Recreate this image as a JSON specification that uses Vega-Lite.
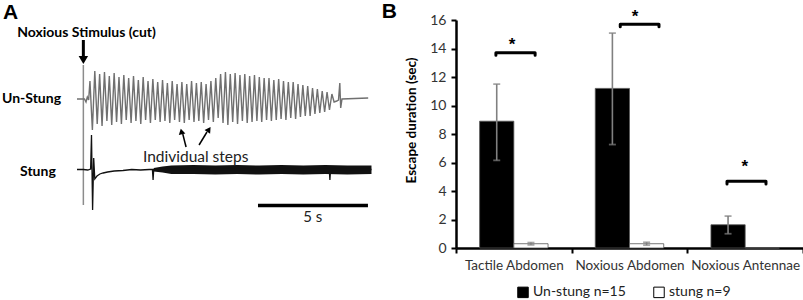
{
  "$schema": "https://vega.github.io/schema/vega-lite/v6.json",
  "padding": 0,
  "background": "white",
  "config": {
    "view": {"stroke": null},
    "font": "Lato",
    "concat": {"spacing": 6}
  },
  "datasets": {
    "unstung_trace": [
      {"t": -0.29, "v": 5.1}, {"t": 0.05, "v": 5.1}, {"t": 0.12, "v": 4.8}, {"t": 0.18, "v": 5.3}, {"t": 0.24, "v": 5.0},
      {"t": 0.30, "v": 6.9}, {"t": 0.41, "v": 2.0}, {"t": 0.52, "v": 7.9}, {"t": 0.63, "v": 2.6}, {"t": 0.74, "v": 7.6},
      {"t": 0.85, "v": 2.4}, {"t": 0.96, "v": 7.8}, {"t": 1.07, "v": 2.9}, {"t": 1.18, "v": 7.4}, {"t": 1.29, "v": 2.5},
      {"t": 1.40, "v": 7.7}, {"t": 1.51, "v": 2.8}, {"t": 1.62, "v": 7.3}, {"t": 1.73, "v": 2.6}, {"t": 1.84, "v": 7.5},
      {"t": 1.95, "v": 3.0}, {"t": 2.06, "v": 7.2}, {"t": 2.17, "v": 2.7}, {"t": 2.28, "v": 7.4}, {"t": 2.39, "v": 2.9},
      {"t": 2.50, "v": 7.0}, {"t": 2.61, "v": 2.6}, {"t": 2.72, "v": 7.3}, {"t": 2.83, "v": 3.0}, {"t": 2.94, "v": 6.9},
      {"t": 3.05, "v": 2.7}, {"t": 3.16, "v": 7.1}, {"t": 3.27, "v": 3.0}, {"t": 3.38, "v": 6.8}, {"t": 3.49, "v": 2.8},
      {"t": 3.60, "v": 7.0}, {"t": 3.71, "v": 2.9}, {"t": 3.82, "v": 6.7}, {"t": 3.93, "v": 2.7}, {"t": 4.04, "v": 6.9},
      {"t": 4.15, "v": 3.0}, {"t": 4.26, "v": 6.6}, {"t": 4.37, "v": 2.8}, {"t": 4.48, "v": 6.8}, {"t": 4.59, "v": 2.7},
      {"t": 4.70, "v": 6.6}, {"t": 4.81, "v": 3.0}, {"t": 4.92, "v": 6.9}, {"t": 5.03, "v": 2.8}, {"t": 5.14, "v": 6.7},
      {"t": 5.25, "v": 2.9}, {"t": 5.36, "v": 6.8}, {"t": 5.47, "v": 2.7}, {"t": 5.58, "v": 6.6}, {"t": 5.69, "v": 3.0},
      {"t": 5.80, "v": 6.9}, {"t": 5.91, "v": 2.8}, {"t": 6.02, "v": 7.2}, {"t": 6.13, "v": 3.2}, {"t": 6.24, "v": 7.6},
      {"t": 6.35, "v": 2.7}, {"t": 6.46, "v": 7.8}, {"t": 6.57, "v": 2.5}, {"t": 6.68, "v": 7.6}, {"t": 6.79, "v": 2.8},
      {"t": 6.90, "v": 7.7}, {"t": 7.01, "v": 2.6}, {"t": 7.12, "v": 7.5}, {"t": 7.23, "v": 2.9}, {"t": 7.34, "v": 7.6},
      {"t": 7.45, "v": 2.7}, {"t": 7.56, "v": 7.4}, {"t": 7.67, "v": 2.8}, {"t": 7.78, "v": 7.5}, {"t": 7.89, "v": 2.9},
      {"t": 8.00, "v": 7.3}, {"t": 8.11, "v": 2.8}, {"t": 8.22, "v": 7.2}, {"t": 8.33, "v": 3.0}, {"t": 8.44, "v": 7.2},
      {"t": 8.55, "v": 2.9}, {"t": 8.66, "v": 7.0}, {"t": 8.77, "v": 3.0}, {"t": 8.88, "v": 7.1}, {"t": 8.99, "v": 3.1},
      {"t": 9.10, "v": 6.9}, {"t": 9.21, "v": 3.0}, {"t": 9.32, "v": 6.8}, {"t": 9.43, "v": 3.2}, {"t": 9.54, "v": 6.8},
      {"t": 9.65, "v": 3.1}, {"t": 9.76, "v": 6.6}, {"t": 9.87, "v": 3.3}, {"t": 9.98, "v": 6.5}, {"t": 10.09, "v": 3.4},
      {"t": 10.20, "v": 6.4}, {"t": 10.31, "v": 3.4}, {"t": 10.42, "v": 6.2}, {"t": 10.53, "v": 3.6}, {"t": 10.64, "v": 6.1},
      {"t": 10.75, "v": 3.7}, {"t": 10.86, "v": 5.9}, {"t": 10.97, "v": 3.8}, {"t": 11.08, "v": 5.8}, {"t": 11.19, "v": 4.0},
      {"t": 11.30, "v": 5.6}, {"t": 11.40, "v": 4.8}, {"t": 11.52, "v": 4.9}, {"t": 11.60, "v": 5.0}, {"t": 11.66, "v": 6.7},
      {"t": 11.70, "v": 4.2}, {"t": 11.76, "v": 5.1}, {"t": 12.95, "v": 5.2}
    ],
    "stung_trace": [
      {"t": -0.29, "v": -1.95}, {"t": 0.00, "v": -1.95}, {"t": 0.20, "v": -2.0}, {"t": 0.33, "v": -1.9},
      {"t": 0.37, "v": 1.5}, {"t": 0.42, "v": -6.0}, {"t": 0.47, "v": -0.8}, {"t": 0.52, "v": -2.9},
      {"t": 0.62, "v": -2.6}, {"t": 0.75, "v": -2.4}, {"t": 0.90, "v": -2.3}, {"t": 1.10, "v": -2.2},
      {"t": 1.40, "v": -2.1}, {"t": 1.80, "v": -2.05}, {"t": 2.20, "v": -1.95}, {"t": 2.60, "v": -2.0},
      {"t": 3.00, "v": -1.95}, {"t": 3.14, "v": -1.95}, {"t": 3.17, "v": -3.0}, {"t": 3.20, "v": -1.95},
      {"t": 11.18, "v": -1.95}, {"t": 11.21, "v": -3.0}, {"t": 11.24, "v": -1.95}, {"t": 13.10, "v": -1.95}
    ],
    "stung_noise": [
      {"t": 3.20, "lo": -2.15, "hi": -1.80}, {"t": 3.60, "lo": -2.25, "hi": -1.65}, {"t": 4.00, "lo": -2.40, "hi": -1.55},
      {"t": 5.00, "lo": -2.40, "hi": -1.50}, {"t": 6.00, "lo": -2.45, "hi": -1.55}, {"t": 7.00, "lo": -2.40, "hi": -1.50},
      {"t": 8.00, "lo": -2.45, "hi": -1.55}, {"t": 9.00, "lo": -2.40, "hi": -1.50}, {"t": 10.00, "lo": -2.45, "hi": -1.55},
      {"t": 11.00, "lo": -2.40, "hi": -1.50}, {"t": 12.00, "lo": -2.45, "hi": -1.55}, {"t": 13.10, "lo": -2.40, "hi": -1.55}
    ],
    "a_segments": [
      {"role": "stimulus line", "t": 0, "v": 8.5, "t2": 0, "v2": -5.5},
      {"role": "stimulus arrow", "t": 0, "v": 11.0, "t2": 0, "v2": 9.3},
      {"role": "step arrow", "t": 4.67, "v": 0.3, "t2": 4.52, "v2": 1.6},
      {"role": "step arrow", "t": 5.26, "v": 0.5, "t2": 5.62, "v2": 1.8},
      {"role": "scale bar", "t": 7.94, "v": -5.55, "t2": 12.94, "v2": -5.55}
    ],
    "a_heads": [
      {"role": "stimulus arrow", "t": 0, "v": 9.0},
      {"role": "step arrow 1", "t": 4.46, "v": 1.85},
      {"role": "step arrow 2", "t": 5.71, "v": 2.05}
    ],
    "a_labels": [
      {"role": "panel", "t": -3.65, "v": 13.75, "label": "A"},
      {"role": "bold", "t": -3.01, "v": 11.7, "label": "Noxious Stimulus (cut)"},
      {"role": "bold", "t": -3.70, "v": 5.1, "label": "Un-Stung"},
      {"role": "bold", "t": -2.88, "v": -2.2, "label": "Stung"},
      {"role": "plain", "t": 2.71, "v": -0.7, "label": "Individual steps"},
      {"role": "scale", "t": 10.43, "v": -6.7, "label": "5 s"}
    ],
    "bars": [
      {"stimulus": "Tactile Abdomen", "group": "Un-stung n=15", "value": 8.9, "lo": 6.15, "hi": 11.5},
      {"stimulus": "Tactile Abdomen", "group": "stung n=9", "value": 0.3, "lo": 0.22, "hi": 0.38},
      {"stimulus": "Noxious Abdomen", "group": "Un-stung n=15", "value": 11.2, "lo": 7.26, "hi": 15.08},
      {"stimulus": "Noxious Abdomen", "group": "stung n=9", "value": 0.3, "lo": 0.2, "hi": 0.4},
      {"stimulus": "Noxious Antennae", "group": "Un-stung n=15", "value": 1.63, "lo": 1.0, "hi": 2.24},
      {"stimulus": "Noxious Antennae", "group": "stung n=9", "value": 0.0, "lo": null, "hi": null}
    ],
    "brackets": [
      {"id": 1, "k": 1, "pos": 0.345, "y": 13.52}, {"id": 1, "k": 2, "pos": 0.345, "y": 13.70},
      {"id": 1, "k": 3, "pos": 0.684, "y": 13.70}, {"id": 1, "k": 4, "pos": 0.684, "y": 13.52},
      {"id": 2, "k": 1, "pos": 1.420, "y": 15.52}, {"id": 2, "k": 2, "pos": 1.420, "y": 15.70},
      {"id": 2, "k": 3, "pos": 1.755, "y": 15.70}, {"id": 2, "k": 4, "pos": 1.755, "y": 15.52},
      {"id": 3, "k": 1, "pos": 2.343, "y": 4.50}, {"id": 3, "k": 2, "pos": 2.343, "y": 4.68},
      {"id": 3, "k": 3, "pos": 2.680, "y": 4.68}, {"id": 3, "k": 4, "pos": 2.680, "y": 4.50}
    ],
    "stars": [
      {"pos": 0.484, "y": 14.54, "label": "*"},
      {"pos": 1.548, "y": 16.5, "label": "*"},
      {"pos": 2.496, "y": 5.94, "label": "*"}
    ]
  },
  "hconcat": [
    {
      "width": 375,
      "height": 230,
      "layer": [
        {
          "data": {"name": "a_segments"},
          "transform": [{"filter": "datum.role == 'stimulus line'"}],
          "mark": {"type": "rule", "color": "#8c8c8c", "strokeWidth": 1.5},
          "encoding": {
            "x": {"field": "t", "type": "quantitative", "scale": {"domain": [-3.79, 13.26], "nice": false, "zero": false}, "axis": null},
            "y": {"field": "v", "type": "quantitative", "scale": {"domain": [-10, 13], "nice": false, "zero": false}, "axis": null},
            "x2": {"field": "t2"},
            "y2": {"field": "v2"}
          }
        },
        {
          "data": {"name": "unstung_trace"},
          "mark": {"type": "line", "color": "#707070", "strokeWidth": 1.4},
          "encoding": {
            "x": {"field": "t", "type": "quantitative"},
            "y": {"field": "v", "type": "quantitative"}
          }
        },
        {
          "data": {"name": "stung_noise"},
          "mark": {"type": "area", "color": "#111111"},
          "encoding": {
            "x": {"field": "t", "type": "quantitative"},
            "y": {"field": "lo", "type": "quantitative"},
            "y2": {"field": "hi"}
          }
        },
        {
          "data": {"name": "stung_trace"},
          "mark": {"type": "line", "color": "#111111", "strokeWidth": 1.3},
          "encoding": {
            "x": {"field": "t", "type": "quantitative"},
            "y": {"field": "v", "type": "quantitative"}
          }
        },
        {
          "data": {"name": "a_segments"},
          "transform": [{"filter": "datum.role == 'stimulus arrow'"}],
          "mark": {"type": "rule", "color": "black", "strokeWidth": 3},
          "encoding": {
            "x": {"field": "t", "type": "quantitative"},
            "y": {"field": "v", "type": "quantitative"},
            "x2": {"field": "t2"},
            "y2": {"field": "v2"}
          }
        },
        {
          "data": {"name": "a_segments"},
          "transform": [{"filter": "datum.role == 'step arrow'"}],
          "mark": {"type": "rule", "color": "black", "strokeWidth": 1.5},
          "encoding": {
            "x": {"field": "t", "type": "quantitative"},
            "y": {"field": "v", "type": "quantitative"},
            "x2": {"field": "t2"},
            "y2": {"field": "v2"}
          }
        },
        {
          "data": {"name": "a_segments"},
          "transform": [{"filter": "datum.role == 'scale bar'"}],
          "mark": {"type": "rule", "color": "black", "strokeWidth": 3.5},
          "encoding": {
            "x": {"field": "t", "type": "quantitative"},
            "y": {"field": "v", "type": "quantitative"},
            "x2": {"field": "t2"},
            "y2": {"field": "v2"}
          }
        },
        {
          "data": {"name": "a_heads"},
          "transform": [{"filter": "datum.role == 'stimulus arrow'"}],
          "mark": {"type": "point", "shape": "triangle-down", "filled": true, "color": "black", "size": 90, "opacity": 1},
          "encoding": {
            "x": {"field": "t", "type": "quantitative"},
            "y": {"field": "v", "type": "quantitative"}
          }
        },
        {
          "data": {"name": "a_heads"},
          "transform": [{"filter": "datum.role == 'step arrow 1'"}],
          "mark": {"type": "point", "shape": "triangle-up", "filled": true, "color": "black", "size": 45, "angle": -13, "opacity": 1},
          "encoding": {
            "x": {"field": "t", "type": "quantitative"},
            "y": {"field": "v", "type": "quantitative"}
          }
        },
        {
          "data": {"name": "a_heads"},
          "transform": [{"filter": "datum.role == 'step arrow 2'"}],
          "mark": {"type": "point", "shape": "triangle-up", "filled": true, "color": "black", "size": 45, "angle": 34, "opacity": 1},
          "encoding": {
            "x": {"field": "t", "type": "quantitative"},
            "y": {"field": "v", "type": "quantitative"}
          }
        },
        {
          "data": {"name": "a_labels"},
          "transform": [{"filter": "datum.role == 'panel'"}],
          "mark": {"type": "text", "align": "left", "baseline": "middle", "font": "Liberation Sans", "fontSize": 21, "fontWeight": "bold", "color": "black"},
          "encoding": {
            "x": {"field": "t", "type": "quantitative"},
            "y": {"field": "v", "type": "quantitative"},
            "text": {"field": "label"}
          }
        },
        {
          "data": {"name": "a_labels"},
          "transform": [{"filter": "datum.role == 'bold'"}],
          "mark": {"type": "text", "align": "left", "baseline": "middle", "font": "Lato", "fontSize": 14, "fontWeight": "bold", "color": "black"},
          "encoding": {
            "x": {"field": "t", "type": "quantitative"},
            "y": {"field": "v", "type": "quantitative"},
            "text": {"field": "label"}
          }
        },
        {
          "data": {"name": "a_labels"},
          "transform": [{"filter": "datum.role == 'plain'"}],
          "mark": {"type": "text", "align": "left", "baseline": "middle", "font": "Lato", "fontSize": 15.5, "color": "#222222"},
          "encoding": {
            "x": {"field": "t", "type": "quantitative"},
            "y": {"field": "v", "type": "quantitative"},
            "text": {"field": "label"}
          }
        },
        {
          "data": {"name": "a_labels"},
          "transform": [{"filter": "datum.role == 'scale'"}],
          "mark": {"type": "text", "align": "center", "baseline": "middle", "font": "Lato", "fontSize": 15, "color": "#222222"},
          "encoding": {
            "x": {"field": "t", "type": "quantitative"},
            "y": {"field": "v", "type": "quantitative"},
            "text": {"field": "label"}
          }
        }
      ]
    },
    {
      "width": 347,
      "height": 228,
      "title": {"text": "B", "anchor": "start", "font": "Liberation Sans", "fontSize": 21, "fontWeight": "bold", "color": "black", "dx": -23, "offset": -14},
      "layer": [
        {
          "layer": [
            {
              "data": {"name": "bars"},
              "mark": {"type": "bar", "stroke": "#555555", "strokeWidth": 0.8},
              "encoding": {
                "x": {
                  "field": "stimulus", "type": "nominal",
                  "sort": ["Tactile Abdomen", "Noxious Abdomen", "Noxious Antennae"],
                  "scale": {"paddingInner": 0, "paddingOuter": 0},
                  "axis": {
                    "title": null, "labelAngle": 0, "tickBand": "extent", "orient": "bottom",
                    "domainColor": "black", "domainWidth": 2.5, "tickColor": "black", "tickWidth": 2, "tickSize": 5,
                    "labelFont": "Lato", "labelFontSize": 13.5, "labelColor": "#333333", "labelPadding": 5
                  }
                },
                "xOffset": {"field": "group", "type": "nominal", "sort": ["Un-stung n=15", "stung n=9"], "scale": {"paddingInner": 0, "paddingOuter": 0.69}},
                "y": {
                  "field": "value", "type": "quantitative",
                  "scale": {"domain": [0, 16], "nice": false},
                  "axis": {
                    "values": [0, 2, 4, 6, 8, 10, 12, 14, 16], "tickCount": 12, "grid": false, "labelOverlap": false,
                    "title": "Escape duration (sec)", "titleFont": "Lato", "titleFontSize": 13.5, "titleFontWeight": "bold", "titleColor": "black", "titlePadding": 11, "titleY": 100,
                    "domainColor": "black", "domainWidth": 2.5, "tickColor": "black", "tickWidth": 2, "tickSize": 5,
                    "labelFont": "Lato", "labelFontSize": 14, "labelColor": "#333333", "labelPadding": 5
                  }
                },
                "fill": {
                  "field": "group", "type": "nominal",
                  "sort": ["Un-stung n=15", "stung n=9"],
                  "scale": {"domain": ["Un-stung n=15", "stung n=9"], "range": ["#000000", "#ffffff"]},
                  "legend": {
                    "title": null, "orient": "none", "legendX": 516, "legendY": 265, "direction": "horizontal",
                    "symbolType": "square", "symbolSize": 110, "symbolStrokeColor": "black", "symbolStrokeWidth": 1,
                    "labelFont": "Lato", "labelFontSize": 14, "labelColor": "#222222", "columnPadding": 25, "labelOffset": 3, "padding": 0
                  }
                }
              }
            },
            {
              "data": {"name": "bars"},
              "transform": [{"filter": "datum.lo != null"}],
              "mark": {"type": "rule", "color": "#808080", "strokeWidth": 1.6},
              "encoding": {
                "x": {"field": "stimulus", "type": "nominal", "sort": ["Tactile Abdomen", "Noxious Abdomen", "Noxious Antennae"]},
                "xOffset": {"field": "group", "type": "nominal", "sort": ["Un-stung n=15", "stung n=9"]},
                "y": {"field": "lo", "type": "quantitative"},
                "y2": {"field": "hi"}
              }
            },
            {
              "data": {"name": "bars"},
              "transform": [{"filter": "datum.lo != null"}],
              "mark": {"type": "tick", "color": "#808080", "size": 7, "thickness": 1.8, "orient": "horizontal"},
              "encoding": {
                "x": {"field": "stimulus", "type": "nominal", "sort": ["Tactile Abdomen", "Noxious Abdomen", "Noxious Antennae"]},
                "xOffset": {"field": "group", "type": "nominal", "sort": ["Un-stung n=15", "stung n=9"]},
                "y": {"field": "lo", "type": "quantitative"}
              }
            },
            {
              "data": {"name": "bars"},
              "transform": [{"filter": "datum.lo != null"}],
              "mark": {"type": "tick", "color": "#808080", "size": 7, "thickness": 1.8, "orient": "horizontal"},
              "encoding": {
                "x": {"field": "stimulus", "type": "nominal", "sort": ["Tactile Abdomen", "Noxious Abdomen", "Noxious Antennae"]},
                "xOffset": {"field": "group", "type": "nominal", "sort": ["Un-stung n=15", "stung n=9"]},
                "y": {"field": "hi", "type": "quantitative"}
              }
            }
          ]
        },
        {
          "layer": [
            {
              "data": {"name": "brackets"},
              "mark": {"type": "line", "color": "black", "strokeWidth": 3, "strokeCap": "round", "strokeJoin": "round"},
              "encoding": {
                "x": {"field": "pos", "type": "quantitative", "scale": {"domain": [0, 3], "nice": false, "zero": false}, "axis": null},
                "y": {
                  "field": "y", "type": "quantitative",
                  "axis": {
                    "values": [0, 2, 4, 6, 8, 10, 12, 14, 16], "tickCount": 12, "grid": false, "labelOverlap": false,
                    "title": "Escape duration (sec)", "titleFont": "Lato", "titleFontSize": 13.5, "titleFontWeight": "bold", "titleColor": "black", "titlePadding": 11, "titleY": 100,
                    "domainColor": "black", "domainWidth": 2.5, "tickColor": "black", "tickWidth": 2, "tickSize": 5,
                    "labelFont": "Lato", "labelFontSize": 14, "labelColor": "#333333", "labelPadding": 5
                  }
                },
                "detail": {"field": "id", "type": "nominal"},
                "order": {"field": "k", "type": "quantitative"}
              }
            },
            {
              "data": {"name": "stars"},
              "mark": {"type": "text", "font": "Liberation Sans", "fontSize": 17, "fontWeight": "bold", "color": "black", "baseline": "middle", "dy": 4},
              "encoding": {
                "x": {"field": "pos", "type": "quantitative"},
                "y": {"field": "y", "type": "quantitative"},
                "text": {"field": "label"}
              }
            }
          ]
        }
      ],
      "resolve": {"scale": {"x": "independent"}}
    }
  ]
}
